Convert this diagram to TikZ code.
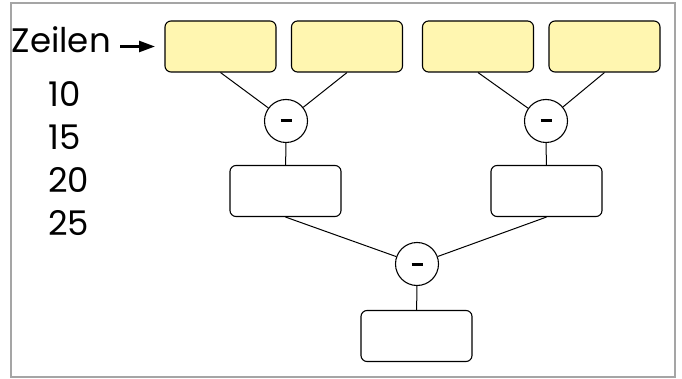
\documentclass[tikz,border=0pt]{standalone}
\usepackage{fontspec}
\setmainfont{Poppins}
\usetikzlibrary{arrows.meta}
\definecolor{cardyellow}{RGB}{255, 246, 176}
\definecolor{framegray}{RGB}{165, 165, 165}

\begin{document}
\begin{tikzpicture}[x=1pt, y=-1pt,
    card/.style={draw, rounded corners=6pt, line width=1.1pt,
                 minimum width=111pt, minimum height=51pt, inner sep=0pt},
    minus/.style={draw, circle, line width=1.1pt, minimum size=43pt,
                  inner sep=0pt},
    rowtext/.style={font=\fontsize{34}{40}\selectfont, inner sep=0pt,
                    anchor=base west}]
  \useasboundingbox (0, 0) rectangle (682, 379);
  \draw[framegray, line width=2pt] (11, 3) rectangle (675, 377);
  % left column
  \node[rowtext, anchor=base east] (head) at (111, 53) {Zeilen};
  \node[rowtext] (n10) at (48, 107) {10};
  \node[rowtext] (n15) at (48, 150) {15};
  \node[rowtext] (n20) at (48, 193) {20};
  \node[rowtext] (n25) at (48, 236) {25};
  % cards
  \node[card, fill=cardyellow] (a1) at (220.5, 46.5) {};
  \node[card, fill=cardyellow] (a2) at (347, 46.5) {};
  \node[card, fill=cardyellow] (a3) at (478, 46.5) {};
  \node[card, fill=cardyellow] (a4) at (604.5, 46.5) {};
  \node[minus] (m1) at (286, 121) {\rule{11pt}{3pt}};
  \node[minus] (m2) at (546, 121) {\rule{11pt}{3pt}};
  \node[card] (b1) at (285.5, 191) {};
  \node[card] (b2) at (546.5, 191) {};
  \node[minus] (m3) at (417, 264) {\rule{11pt}{3pt}};
  \node[card] (c) at (416.5, 336) {};
  % connectors
  \coordinate (tail) at (120, 46.5);
  \coordinate (tip) at (155, 46.5);
  \draw[line width=2.5pt, -{Triangle[length=16pt, width=11pt]}] (tail) -- (tip);
  \draw[line width=1pt] (a1.south) -- (m1);
  \draw[line width=1pt] (a2.south) -- (m1);
  \draw[line width=1pt] (a3.south) -- (m2);
  \draw[line width=1pt] (a4.south) -- (m2);
  \draw[line width=1pt] (m1) -- (b1);
  \draw[line width=1pt] (m2) -- (b2);
  \draw[line width=1pt] (b1.south) -- (m3);
  \draw[line width=1pt] (b2.south) -- (m3);
  \draw[line width=1pt] (m3) -- (c);
\end{tikzpicture}
\end{document}
